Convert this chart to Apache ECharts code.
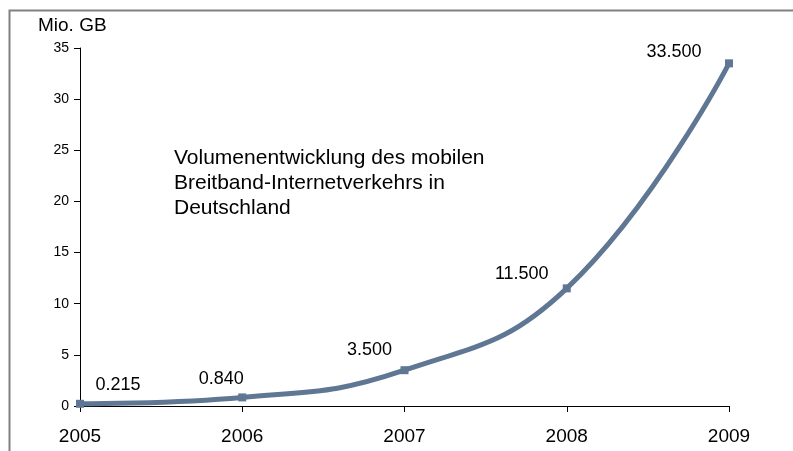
<!DOCTYPE html>
<html>
<head>
<meta charset="utf-8">
<script src="https://cdn.jsdelivr.net/npm/echarts@6/dist/echarts.min.js"></script>
<style>
  html, body { margin: 0; padding: 0; background: #fff; }
  #main { width: 793px; height: 451px; }
</style>
</head>
<body>
<div id="main"></div>
<script>
var years = ['2005', '2006', '2007', '2008', '2009']
var volumes = [0.215, 0.84, 3.5, 11.5, 33.5]
var labels = ['0.215', '0.840', '3.500', '11.500', '33.500']
var labelOffsets = [[38, -1], [-21, 0], [-35, -2], [-45, 4], [-55, 7]]

var chart = echarts.init(document.getElementById('main'))
var font = '"Liberation Sans", Arial, sans-serif'

var option = {
  animation: false,
  textStyle: { fontFamily: font },
  grid: { left: 80, right: 64, top: 48, bottom: 45 },
  graphic: [
    {
      type: 'polyline',
      shape: { points: [[9.5, 451], [9.5, 10.5], [793, 10.5]] },
      style: { stroke: '#808080', lineWidth: 2, fill: null }
    },
    {
      type: 'text',
      left: 38, top: 16,
      style: { text: 'Mio. GB', font: '19px ' + font, fill: '#000' }
    },
    {
      type: 'text',
      left: 174, top: 146,
      style: {
        text: 'Volumenentwicklung des mobilen\nBreitband-Internetverkehrs in\nDeutschland',
        font: '21px ' + font, lineHeight: 25, fill: '#000'
      }
    }
  ],
  xAxis: {
    type: 'category',
    data: years,
    boundaryGap: false,
    axisLine: { lineStyle: { color: '#000', width: 1 } },
    axisTick: { show: true, alignWithLabel: true, length: 6, lineStyle: { color: '#000' } },
    axisLabel: { color: '#000', fontSize: 19, margin: 21, fontFamily: font },
    splitLine: { show: false }
  },
  yAxis: {
    type: 'value',
    min: 0,
    max: 35,
    interval: 5,
    axisLine: { show: true, lineStyle: { color: '#000', width: 1 } },
    axisTick: { show: true, length: 6, lineStyle: { color: '#000' } },
    axisLabel: { color: '#000', fontSize: 14, margin: 11, fontFamily: font },
    splitLine: { show: false }
  },
  series: [{
    type: 'line',
    smooth: 0.45,
    symbol: 'rect',
    symbolSize: 8,
    lineStyle: { color: '#5f7793', width: 5 },
    itemStyle: { color: '#5f7793' },
    label: {
      show: true,
      position: 'top',
      color: '#000',
      fontSize: 18,
      fontFamily: font,
      formatter: function (p) { return labels[p.dataIndex] }
    },
    data: volumes.map(function (v, i) {
      return { value: v, label: { offset: labelOffsets[i] } }
    })
  }]
}
chart.setOption(option)
</script>
</body>
</html>
